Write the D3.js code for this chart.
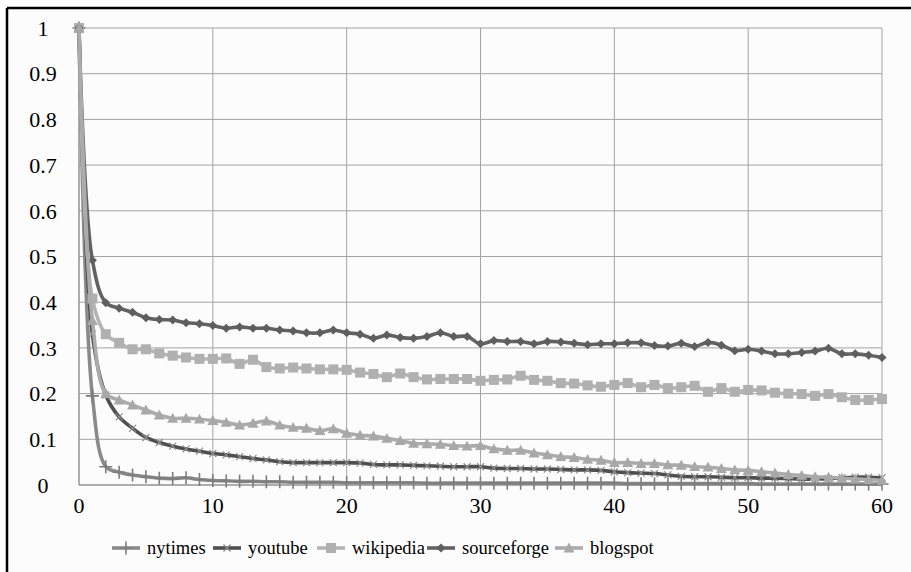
<!DOCTYPE html>
<html><head><meta charset="utf-8">
<script src="https://cdn.jsdelivr.net/npm/d3@7/dist/d3.min.js"></script>
<style>
body{margin:0}
text{font-family:"Liberation Serif" !important;}
</style>
</head>
<body>
<svg id="chart" width="911" height="572" font-family='"Liberation Serif"'></svg>
<script>
const xTicks = [0,10,20,30,40,50,60];
const yTicks = [0,0.1,0.2,0.3,0.4,0.5,0.6,0.7,0.8,0.9,1];
const yTickLabels = ["0","0.1","0.2","0.3","0.4","0.5","0.6","0.7","0.8","0.9","1"];
const seriesNames = ["nytimes","youtube","wikipedia","sourceforge","blogspot"];

const nytimes = [1,0.195,0.040,0.028,0.022,0.018,0.015,0.014,0.016,0.012,0.010,0.009,0.008,0.008,0.007,0.007,0.006,0.006,0.006,0.006,0.005,0.005,0.005,0.005,0.005,0.005,0.004,0.004,0.004,0.004,0.004,0.004,0.004,0.004,0.004,0.004,0.004,0.004,0.004,0.004,0.004,0.003,0.003,0.003,0.003,0.003,0.003,0.003,0.003,0.003,0.003,0.002,0.002,0.002,0.002,0.002,0.002,0.002,0.002,0.002,0.002];
const youtube = [1,0.33,0.197,0.149,0.124,0.104,0.093,0.085,0.079,0.074,0.069,0.066,0.062,0.058,0.055,0.051,0.049,0.049,0.049,0.049,0.049,0.048,0.045,0.044,0.044,0.043,0.042,0.041,0.040,0.040,0.040,0.037,0.036,0.036,0.035,0.035,0.034,0.033,0.033,0.032,0.029,0.027,0.026,0.025,0.022,0.019,0.018,0.018,0.017,0.016,0.016,0.015,0.015,0.014,0.013,0.013,0.014,0.016,0.017,0.017,0.016];
const wikipedia = [1,0.408,0.330,0.311,0.297,0.297,0.288,0.283,0.279,0.276,0.276,0.277,0.265,0.274,0.258,0.255,0.257,0.255,0.253,0.253,0.252,0.246,0.243,0.236,0.244,0.236,0.231,0.232,0.232,0.232,0.228,0.230,0.231,0.239,0.230,0.228,0.223,0.222,0.218,0.215,0.219,0.223,0.214,0.219,0.212,0.214,0.217,0.204,0.212,0.204,0.208,0.207,0.202,0.200,0.199,0.195,0.199,0.192,0.186,0.186,0.188];
const sourceforge = [1,0.492,0.399,0.387,0.378,0.366,0.362,0.361,0.355,0.353,0.349,0.343,0.346,0.343,0.343,0.339,0.337,0.333,0.333,0.339,0.333,0.330,0.321,0.328,0.323,0.321,0.325,0.333,0.325,0.325,0.309,0.316,0.314,0.314,0.309,0.314,0.313,0.310,0.307,0.309,0.309,0.311,0.311,0.305,0.304,0.310,0.303,0.312,0.306,0.294,0.297,0.293,0.287,0.287,0.290,0.293,0.299,0.287,0.287,0.284,0.279];
const blogspot = [1,0.36,0.200,0.186,0.175,0.164,0.153,0.146,0.146,0.144,0.141,0.137,0.131,0.135,0.140,0.131,0.126,0.124,0.119,0.123,0.113,0.109,0.107,0.102,0.097,0.091,0.090,0.089,0.086,0.085,0.086,0.079,0.076,0.076,0.070,0.066,0.062,0.060,0.056,0.054,0.049,0.049,0.047,0.047,0.044,0.043,0.040,0.039,0.036,0.033,0.032,0.029,0.026,0.023,0.021,0.018,0.017,0.015,0.013,0.012,0.010];

const seriesValues = [nytimes, youtube, wikipedia, sourceforge, blogspot];
const styles = [
  {color:"#8a8a8a", width:3.6, marker:"plus",     mColor:"#7d7d7d"},
  {color:"#4f4f4f", width:3.6, marker:"cross",    mColor:"#8c8c8c"},
  {color:"#b4b4b4", width:3.6, marker:"square",   mColor:"#b0b0b0"},
  {color:"#626262", width:3.6, marker:"diamond",  mColor:"#5e5e5e"},
  {color:"#ababab", width:3.6, marker:"triangle", mColor:"#a8a8a8"}
];

const FONT = '"Liberation Serif"';
const svg = d3.select("#chart");
svg.append("rect").attr("width",911).attr("height",572).attr("fill","#ffffff");
svg.append("rect").attr("x",8).attr("y",9).attr("width",903).attr("height",563).attr("fill","#fcfcfc");
svg.append("line").attr("x1",7).attr("x2",911).attr("y1",8).attr("y2",8).attr("stroke","#000").attr("stroke-width",2.5);
svg.append("line").attr("x1",7).attr("x2",7).attr("y1",8).attr("y2",572).attr("stroke","#000").attr("stroke-width",2.5);

const x = d3.scaleLinear().domain([0,60]).range([79,882]);
const y = d3.scaleLinear().domain([0,1]).range([485,28]);

const grid = svg.append("g");
grid.selectAll("line.h").data(yTicks).enter().append("line")
  .attr("x1",x(0)).attr("x2",x(60)).attr("y1",d=>y(d)).attr("y2",d=>y(d))
  .attr("stroke","#a3a3a3").attr("stroke-width",1);
grid.selectAll("line.v").data(xTicks).enter().append("line")
  .attr("y1",y(0)).attr("y2",y(1)).attr("x1",d=>x(d)).attr("x2",d=>x(d))
  .attr("stroke","#a3a3a3").attr("stroke-width",1);
svg.append("line").attr("x1",x(0)).attr("x2",x(0)).attr("y1",y(0)).attr("y2",y(1)).attr("stroke","#8a8a8a");
svg.append("line").attr("x1",x(0)).attr("x2",x(60)).attr("y1",y(0)).attr("y2",y(0)).attr("stroke","#8a8a8a");

svg.append("g").selectAll("text").data(yTicks).enter().append("text")
  .attr("x",x(0)-36).attr("y",d=>y(d)).attr("dy","0.35em")
  .attr("text-anchor","middle").attr("font-family",FONT).attr("font-size",22).attr("fill","#000")
  .text((d,i)=>yTickLabels[i]);
svg.append("g").selectAll("text").data(xTicks).enter().append("text")
  .attr("x",d=>x(d)).attr("y",y(0)+28)
  .attr("text-anchor","middle").attr("font-family",FONT).attr("font-size",22).attr("fill","#000")
  .text(d=>String(d));

function markerPath(type, s){
  const h = s/2;
  switch(type){
    case "plus": return `M${-h},0H${h}M0,${-h}V${h}`;
    case "cross": return `M${-h},${-h}L${h},${h}M${-h},${h}L${h},${-h}`;
    case "square": return `M${-h},${-h}H${h}V${h}H${-h}Z`;
    case "diamond": return `M0,${-h}L${h},0L0,${h}L${-h},0Z`;
    case "triangle": return `M0,${-h}L${h},${h*0.8}L${-h},${h*0.8}Z`;
  }
}
const mSize = {plus:13, cross:7, square:10, diamond:9, triangle:11};
function drawMarker(g, type, st){
  const p = g.append("path").attr("d", markerPath(type, mSize[type]));
  if(type==="plus"||type==="cross"){
    p.attr("fill","none").attr("stroke",st.mColor).attr("stroke-width", type==="plus"?1.6:1.2);
  } else {
    p.attr("fill",st.mColor).attr("stroke","none");
  }
}

const line = d3.line().x((d,i)=>x(i)).y(d=>y(d)).curve(d3.curveCatmullRom.alpha(0.5));
const plot = svg.append("g");
seriesValues.forEach((vals, si)=>{
  const st = styles[si];
  const g = plot.append("g");
  g.append("path").datum(vals).attr("d",line).attr("fill","none")
    .attr("stroke",st.color).attr("stroke-width",st.width).attr("stroke-linejoin","round");
  vals.forEach((v,i)=>{
    drawMarker(g.append("g").attr("transform",`translate(${x(i)},${y(v)})`), st.marker, st);
  });
});

const legendX = [112, 213, 317, 427, 555];
seriesNames.forEach((name, si)=>{
  const st = styles[si];
  const lx = legendX[si], ly = 548;
  svg.append("line").attr("x1",lx).attr("x2",lx+28).attr("y1",ly).attr("y2",ly)
    .attr("stroke",st.color).attr("stroke-width",st.width);
  drawMarker(svg.append("g").attr("transform",`translate(${lx+14},${ly})`), st.marker, st);
  svg.append("text").attr("x",lx+35).attr("y",ly+6).text(name)
    .attr("font-family",FONT).attr("font-size",18.5).attr("fill","#000");
});
</script>
</body></html>
